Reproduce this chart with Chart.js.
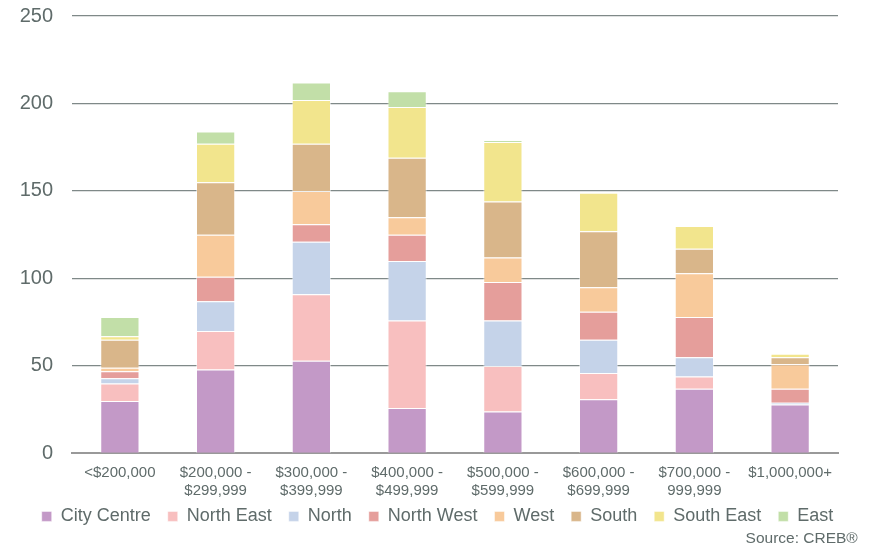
<!DOCTYPE html>
<html>
<head>
<meta charset="utf-8">
<script src="https://cdn.jsdelivr.net/npm/chart.js@4"></script>
<style>
    html, body { margin: 0; padding: 0; background: #fff; }
    #wrap { width: 875px; height: 552px; position: relative; }
</style>
</head>
<body>
<div id="wrap"><canvas id="myChart"></canvas></div>
<script>
const priceRanges = [
    "<$200,000",
    ["$200,000 -", "$299,999"],
    ["$300,000 -", "$399,999"],
    ["$400,000 -", "$499,999"],
    ["$500,000 -", "$599,999"],
    ["$600,000 -", "$699,999"],
    ["$700,000 -", "999,999"],
    "$1,000,000+",
];
const cityCentre = [30, 48, 53, 26, 24, 31, 37, 28];
const northEast = [10, 22, 38, 50, 26, 15, 7, 0];
const north = [3, 17, 30, 34, 26, 19, 11, 1];
const northWest = [4, 14, 10, 15, 22, 16, 23, 8];
const west = [2, 24, 19, 10, 14, 14, 25, 14];
const south = [16, 30, 27, 34, 32, 32, 14, 4];
const southEast = [2, 22, 25, 29, 34, 22, 13, 2];
const east = [11, 7, 10, 9, 1, 0, 0, 0];

const textColor = "#5f6b6a";
const fontFamily = "'Liberation Sans', Arial, sans-serif";
const gap = "\u00a0\u00a0";

function ds(label, data, color) {
    return {
        label: label,
        data: data,
        backgroundColor: color,
        borderColor: "rgba(255,255,255,0.5)",
        borderWidth: 1,
        barPercentage: 0.41,
        categoryPercentage: 1,
    };
}

document.addEventListener("DOMContentLoaded", function () {
    const ctx = document.getElementById("myChart");

    new Chart(ctx, {
        type: "bar",
        data: {
            labels: priceRanges,
            datasets: [
                ds("City Centre", cityCentre, "#c399c7"),
                ds("North East", northEast, "#f8bfbf"),
                ds("North", north, "#c5d3e9"),
                ds("North West", northWest, "#e59e9b"),
                ds("West", west, "#f8ca9b"),
                ds("South", south, "#d9b68a"),
                ds("South East", southEast, "#f2e58d"),
                ds("East", east, "#c2dfa8"),
            ],
        },
        options: {
            responsive: true,
            maintainAspectRatio: false,
            animation: false,
            layout: { padding: { left: 0, right: 0, top: 16, bottom: 2 } },
            plugins: {
                legend: {
                    position: "bottom",
                    labels: {
                        boxWidth: 10,
                        boxHeight: 10,
                        padding: 7,
                        color: textColor,
                        font: { family: fontFamily, size: 18 },
                        generateLabels: function (chart) {
                            const items = Chart.defaults.plugins.legend.labels.generateLabels(chart);
                            items.forEach(function (it, i) {
                                if (i < items.length - 1) it.text = it.text + gap;
                            });
                            return items;
                        },
                    },
                },
                subtitle: {
                    display: true,
                    text: "Source: CREB®\u00a0\u00a0\u00a0\u00a0",
                    position: "bottom",
                    align: "end",
                    color: textColor,
                    font: { family: fontFamily, size: 15.5 },
                    padding: { top: -6, bottom: 2 },
                },
                tooltip: { enabled: false },
            },
            scales: {
                x: {
                    stacked: true,
                    grid: { display: false, drawTicks: false },
                    border: { display: true, color: "#999999", width: 2 },
                    ticks: {
                        color: textColor,
                        padding: 10,
                        maxRotation: 0,
                        autoSkip: false,
                        font: { family: fontFamily, size: 15, lineHeight: 1.2 },
                    },
                    afterFit: function (scale) { scale.height = 47; },
                },
                y: {
                    stacked: true,
                    min: 0,
                    max: 250,
                    grid: {
                        drawTicks: false,
                        color: function (c) { return c.tick.value === 0 ? "rgba(0,0,0,0)" : "#7f8988"; },
                        lineWidth: 1.3,
                    },
                    border: { display: false },
                    ticks: {
                        stepSize: 50,
                        color: textColor,
                        padding: 19,
                        font: { family: fontFamily, size: 20 },
                    },
                    afterFit: function (scale) {
                        scale.width = 72;
                        scale.paddingTop = 0;
                        scale.paddingBottom = 0;
                    },
                },
                // empty right axis, only keeps the 37px margin so the legend stays centred
                yRight: {
                    position: "right",
                    display: true,
                    grid: { display: false, drawTicks: false },
                    border: { display: false },
                    ticks: { display: false },
                    afterFit: function (scale) { scale.width = 37; },
                },
            },
        },
    });
});
</script>
</body>
</html>
